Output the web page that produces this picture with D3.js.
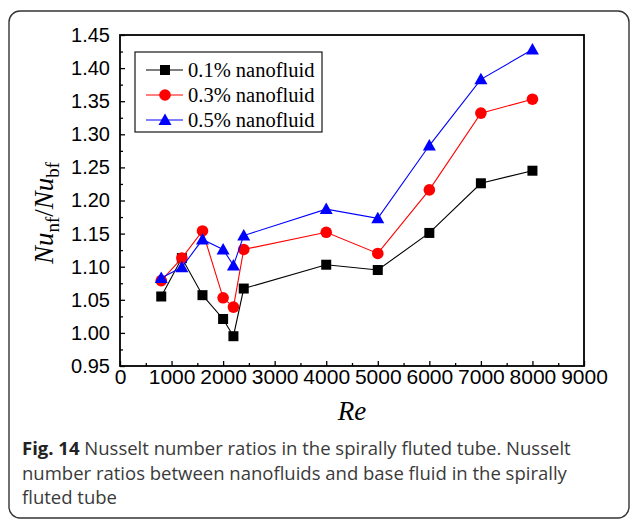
<!DOCTYPE html>
<html>
<head>
<meta charset="utf-8">
<script src="https://cdn.jsdelivr.net/npm/d3@7"></script>
<style>
	body { margin: 0; background: white; }
</style>
</head>
<body>
<svg id="chart" width="630" height="519"></svg>
<script>
// Reynolds numbers of the measurements
const re_values = [800, 1200, 1600, 2000, 2200, 2400, 4000, 5000, 6000, 7000, 8000];

// Nu_nf / Nu_bf for each concentration
const nu_01 = [1.055, 1.113, 1.057, 1.021, 0.995, 1.067, 1.103, 1.095, 1.151, 1.226, 1.245];
const nu_03 = [1.079, 1.113, 1.154, 1.053, 1.039, 1.126, 1.152, 1.120, 1.216, 1.332, 1.353];
const nu_05 = [1.083, 1.099, 1.141, 1.126, 1.102, 1.147, 1.187, 1.173, 1.283, 1.383, 1.428];

const series_names = ["0.1% nanofluid", "0.3% nanofluid", "0.5% nanofluid"];
const series_colors = ["#000000", "#ff0000", "#0000ff"];
const series_symbols = ["square", "circle", "triangle"];

const x_ticks = [0, 1000, 2000, 3000, 4000, 5000, 6000, 7000, 8000, 9000];
const y_ticks = [0.95, 1.00, 1.05, 1.10, 1.15, 1.20, 1.25, 1.30, 1.35, 1.40, 1.45];

const caption_lines = [
	["Fig. 14", " Nusselt number ratios in the spirally fluted tube. Nusselt"],
	["", "number ratios between nanofluids and base fluid in the spirally"],
	["", "fluted tube"]
];

let svg = d3.select("#chart");

// outer frame of the figure
svg.append("rect")
	.attr("x", 9).attr("y", 11)
	.attr("width", 620).attr("height", 507)
	.attr("rx", 11)
	.attr("fill", "none")
	.attr("stroke", "#333")
	.attr("stroke-width", 1.4);

let x = d3.scaleLinear().domain([0, 9000]).range([120, 584]);
let y = d3.scaleLinear().domain([0.95, 1.45]).range([366, 35]);

// minor ticks first, then majors with labels
let x_minor = d3.range(500, 9000, 1000);
let y_minor = d3.range(0.975, 1.45, 0.05);

svg.append("g")
	.attr("transform", "translate(0,366)")
	.call(d3.axisBottom(x).tickValues(x_minor).tickSize(-3).tickFormat(""))
	.call(g => g.select(".domain").remove())
	.selectAll("line").attr("stroke-width", 1.3);

svg.append("g")
	.attr("transform", "translate(120,0)")
	.call(d3.axisLeft(y).tickValues(y_minor).tickSize(-3).tickFormat(""))
	.call(g => g.select(".domain").remove())
	.selectAll("line").attr("stroke-width", 1.3);

let x_axis = svg.append("g")
	.attr("transform", "translate(0,366)")
	.call(d3.axisBottom(x).tickValues(x_ticks).tickSize(-5).tickPadding(3).tickFormat(d3.format("d")));
x_axis.select(".domain").remove();
x_axis.selectAll("line").attr("stroke-width", 1.3);
x_axis.selectAll("text")
	.attr("font-family", "Liberation Sans, Arial, sans-serif")
	.attr("font-size", 21)
	.attr("fill", "#000");

let y_axis = svg.append("g")
	.attr("transform", "translate(120,0)")
	.call(d3.axisLeft(y).tickValues(y_ticks).tickSize(-5).tickPadding(10).tickFormat(d3.format(".2f")));
y_axis.select(".domain").remove();
y_axis.selectAll("line").attr("stroke-width", 1.3);
y_axis.selectAll("text")
	.attr("font-family", "Liberation Sans, Arial, sans-serif")
	.attr("font-size", 20)
	.attr("fill", "#000");

// plot box
svg.append("rect")
	.attr("x", x(0)).attr("y", y(1.45))
	.attr("width", x(9000) - x(0)).attr("height", y(0.95) - y(1.45))
	.attr("fill", "none")
	.attr("stroke", "#000")
	.attr("stroke-width", 1.8);

function draw_marker(g, symbol, color, cx, cy) {
	if (symbol == "square") {
		g.append("rect")
			.attr("x", cx - 5).attr("y", cy - 5)
			.attr("width", 10).attr("height", 10)
			.attr("fill", color);
	} else if (symbol == "circle") {
		g.append("circle")
			.attr("cx", cx).attr("cy", cy).attr("r", 5.8)
			.attr("fill", color);
	} else {
		g.append("path")
			.attr("d", `M${cx},${cy - 6.5}L${cx + 6.5},${cy + 5}L${cx - 6.5},${cy + 5}Z`)
			.attr("fill", color);
	}
}

let all_series = [nu_01, nu_03, nu_05];
let line = d3.line().x((d, i) => x(re_values[i])).y(d => y(d));

all_series.forEach((vals, s) => {
	let g = svg.append("g");
	g.append("path")
		.datum(vals)
		.attr("d", line)
		.attr("fill", "none")
		.attr("stroke", series_colors[s])
		.attr("stroke-width", 1.1);
	vals.forEach((v, i) => draw_marker(g, series_symbols[s], series_colors[s], x(re_values[i]), y(v)));
});

// legend
let legend = svg.append("g");
legend.append("rect")
	.attr("x", 135).attr("y", 52)
	.attr("width", 187).attr("height", 80)
	.attr("fill", "white")
	.attr("stroke", "#000")
	.attr("stroke-width", 1.1);

series_names.forEach((name, s) => {
	let ly = 70 + s * 25;
	legend.append("line")
		.attr("x1", 146).attr("x2", 183)
		.attr("y1", ly).attr("y2", ly)
		.attr("stroke", series_colors[s])
		.attr("stroke-width", 1.1);
	draw_marker(legend, series_symbols[s], series_colors[s], 165, ly);
	legend.append("text")
		.attr("x", 188).attr("y", ly)
		.attr("dy", "0.35em")
		.attr("font-family", "Liberation Serif, Times New Roman, serif")
		.attr("font-size", 20.5)
		.text(name);
});

// axis titles
let ylab = svg.append("text")
	.attr("transform", "translate(53,213) rotate(-90)")
	.attr("text-anchor", "middle")
	.attr("font-family", "Liberation Serif, Times New Roman, serif")
	.attr("font-size", 27);
ylab.append("tspan").attr("font-style", "italic").text("Nu");
ylab.append("tspan").attr("font-size", 19).attr("dy", 6).text("nf");
ylab.append("tspan").attr("dy", -6).text("/");
ylab.append("tspan").attr("font-style", "italic").text("Nu");
ylab.append("tspan").attr("font-size", 19).attr("dy", 6).text("bf");

svg.append("text")
	.attr("x", 352).attr("y", 420)
	.attr("text-anchor", "middle")
	.attr("font-family", "Liberation Serif, Times New Roman, serif")
	.attr("font-style", "italic")
	.attr("font-size", 27)
	.text("Re");

// caption below the chart
caption_lines.forEach((parts, i) => {
	let t = svg.append("text")
		.attr("x", 22).attr("y", 455 + i * 24.5)
		.attr("font-family", "Open Sans, Noto Sans, sans-serif")
		.attr("font-size", 18.5)
		.attr("fill", "#3a3a3a");
	if (parts[0] != "") {
		t.append("tspan").attr("font-weight", "bold").attr("fill", "#222").text(parts[0]);
	}
	t.append("tspan").text(parts[1]);
});
</script>
</body>
</html>
